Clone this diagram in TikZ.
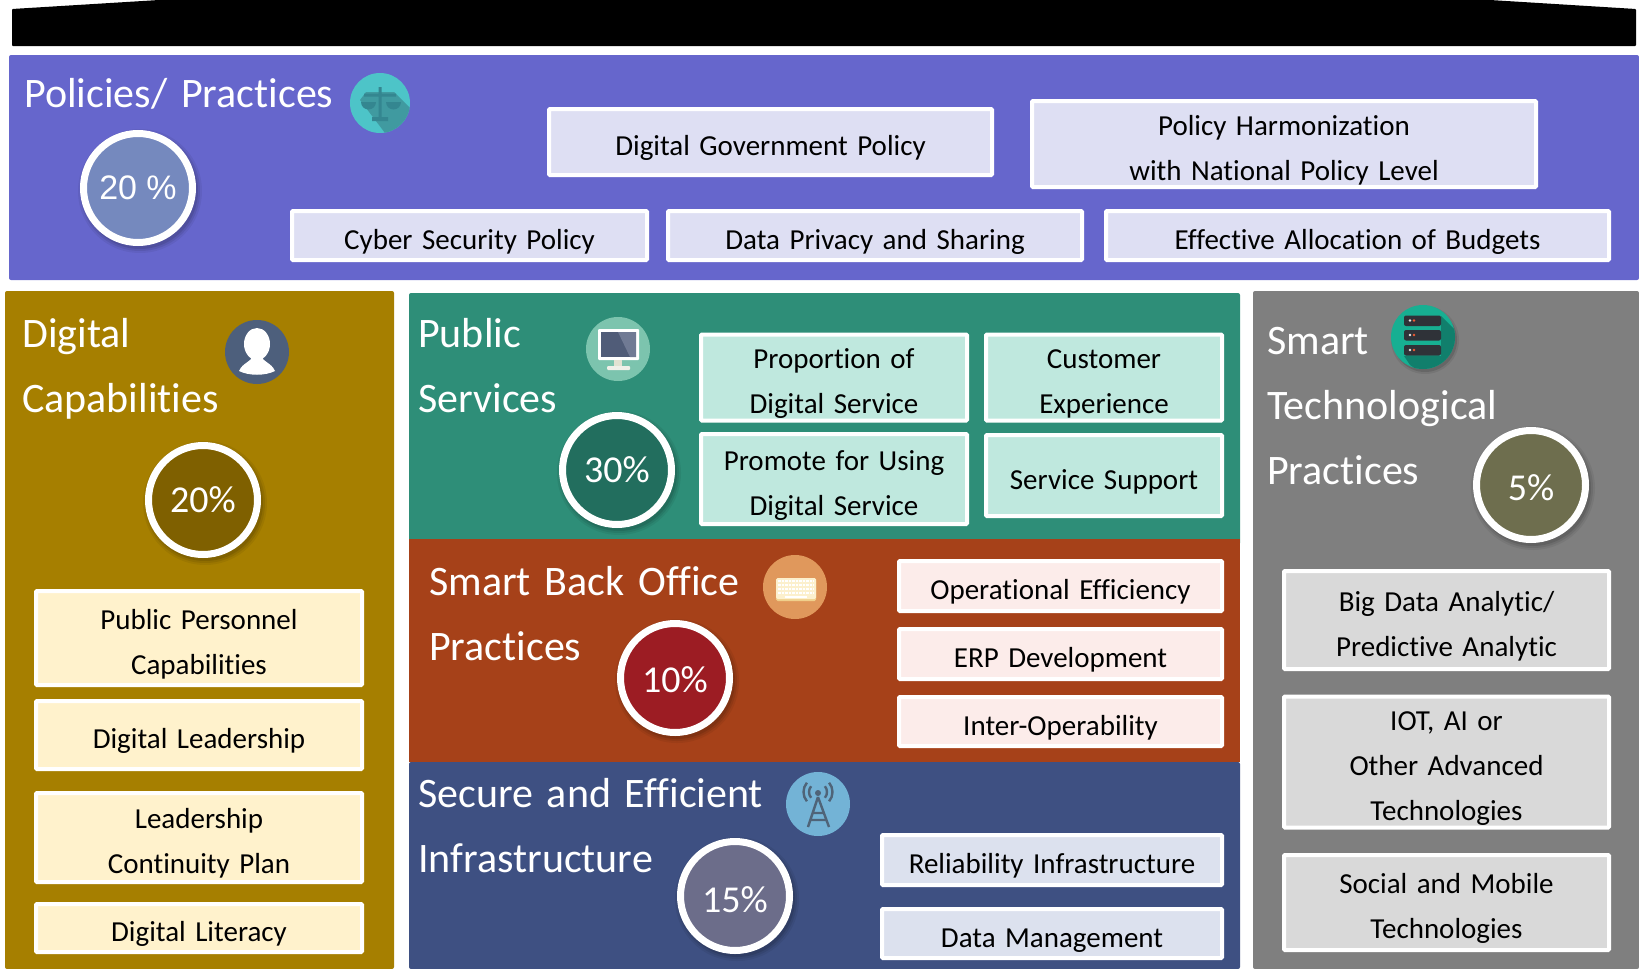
\documentclass[tikz,border=0pt]{standalone}
\usepackage{fontspec}
\setmainfont{Carlito}[Ligatures=NoCommon,WordSpace=1.45]
\newfontfamily\arialf{Liberation Sans}
\definecolor{cPol}{HTML}{6666CC}\definecolor{cPolB}{HTML}{DEDFF3}\definecolor{cPolC}{HTML}{7589BE}
\definecolor{cGold}{HTML}{A67F00}\definecolor{cGoldB}{HTML}{FFF2CC}\definecolor{cGoldC}{HTML}{7F6000}
\definecolor{cTeal}{HTML}{2E8E78}\definecolor{cTealB}{HTML}{BFE8DE}\definecolor{cTealC}{HTML}{226E5E}
\definecolor{cRust}{HTML}{A64119}\definecolor{cRustB}{HTML}{FCECEA}\definecolor{cRustC}{HTML}{9C1C23}
\definecolor{cNavy}{HTML}{3E5082}\definecolor{cNavyB}{HTML}{DCE1EE}\definecolor{cNavyC}{HTML}{6C6D8A}
\definecolor{cGray}{HTML}{7F7F7F}\definecolor{cGrayB}{HTML}{D9D9D9}\definecolor{cGrayC}{HTML}{6E6E4E}
\definecolor{icTeal}{RGB}{77,196,200}\definecolor{icTealD}{RGB}{64,154,160}\definecolor{icTealG}{RGB}{52,134,144}
\definecolor{icUserC}{RGB}{77,95,124}\definecolor{icMonC}{RGB}{124,196,174}\definecolor{icMonD}{RGB}{80,92,120}
\definecolor{icMonL}{RGB}{112,122,148}\definecolor{icMonS}{RGB}{226,226,210}\definecolor{icKeyC}{RGB}{224,152,92}
\definecolor{icKeyD}{RGB}{240,208,140}\definecolor{icKeyL}{RGB}{252,240,205}\definecolor{icAntC}{RGB}{115,179,214}
\definecolor{icAntG}{RGB}{79,100,120}\definecolor{icSrvC}{RGB}{23,175,146}\definecolor{icSrvD}{RGB}{17,127,108}
\definecolor{icSrvB}{RGB}{47,50,56}\definecolor{icSrvO}{RGB}{240,90,50}
\tikzset{
 boxn/.style={draw=white,line width=4pt,inner sep=0pt,align=center,text=black,rounded corners=1pt,
   font=\fontsize{29}{45}\selectfont},
 ringn/.style={circle,draw=white,line width=7pt,minimum size=109pt,inner sep=0pt,text=white,
   font=\fontsize{38}{38}\selectfont},
 ttl/.style={anchor=north west,inner sep=0pt,align=left,text=white,font=\fontsize{42}{65}\selectfont},
 iconc/.style={circle,minimum size=64pt,inner sep=0pt},
}
% name x1 y1 x2 y2 fill text
\newcommand\bx[7]{%
 \pgfmathsetmacro\bxw{#4-#2-4}\pgfmathsetmacro\bxh{#5-#3-4}%
 \pgfmathsetmacro\bxx{(#2+#4)/2}\pgfmathsetmacro\bxy{(#3+#5)/2}%
 \node[boxn,fill=#6,minimum width=\bxw pt,minimum height=\bxh pt] (#1) at (\bxx,\bxy) {\rule{0pt}{34pt}#7\rule[-7pt]{0pt}{1pt}};}
% name x y fill text
\newcommand\ringc[5]{%
 \foreach \rr/\oo in {62/.06,60/.08,58/.10}{\fill[black,opacity=\oo] (#2+2,#3+3) circle (\rr);}
 \node[ringn,fill=#4] (#1) at (#2,#3) {#5};}
% name x firstbaseline text
\newcommand\ttlc[4]{\node[ttl] (#1) at (#2,#3-36) {\rule{0pt}{36pt}#4};}
\begin{document}
\begin{tikzpicture}[x=1pt,y=-1pt]
\useasboundingbox (0,0) rectangle (1639,969);
% header bar
\fill[black,rounded corners=1pt] (12,46) -- (12,9) -- (159,0) -- (1490,0) -- (1636,9) -- (1636,46) -- cycle;
% panels
\fill[cPol,rounded corners=2pt] (9,55) rectangle (1639,280);
\fill[cGold,rounded corners=2pt] (5,291) rectangle (394,969);
\fill[cTeal,rounded corners=2pt] (409,293) rectangle (1240,545);
\fill[cRust] (409,539) rectangle (1240,762);
\fill[cNavy,rounded corners=2pt] (409,969) -- (409,762) -- (1240,762) -- (1240,969) -- cycle;
\fill[cGray,rounded corners=2pt] (1253,291) rectangle (1639,969);
% titles
\ttlc{tPol}{24}{107}{Policies/ Practices}
\ttlc{tDig}{22}{347.5}{Digital\\Capabilities}
\ttlc{tPub}{418}{347.5}{Public\\Services}
\ttlc{tBack}{429}{595}{Smart Back Office\\Practices}
\ttlc{tInf}{418}{807}{Secure and Efficient\\Infrastructure}
\ttlc{tTech}{1267}{354}{Smart\\Technological\\Practices}
% policy boxes
\bx{b1}{547}{107}{994}{177}{cPolB}{Digital Government Policy}
\bx{b2}{1030}{100}{1538}{188}{cPolB}{Policy Harmonization\\with National Policy Level}
\bx{b3}{290}{209}{649}{262}{cPolB}{Cyber Security Policy}
\bx{b4}{666}{209}{1084}{262}{cPolB}{Data Privacy and Sharing}
\bx{b5}{1104}{209}{1611}{262}{cPolB}{Effective Allocation of Budgets}
% left
\bx{l1}{34}{589}{364}{687}{cGoldB}{Public Personnel\\Capabilities}
\bx{l2}{34}{699}{364}{771}{cGoldB}{Digital Leadership}
\bx{l3}{34}{791}{364}{884}{cGoldB}{Leadership\\Continuity Plan}
\bx{l4}{34}{902}{364}{954}{cGoldB}{Digital Literacy}
% public services
\bx{s1}{699}{334}{969}{421}{cTealB}{Proportion of\\Digital Service}
\bx{s2}{984}{334}{1224}{421}{cTealB}{Customer\\Experience}
\bx{s3}{699}{432}{969}{526}{cTealB}{Promote for Using\\Digital Service}
\bx{s4}{984}{433}{1224}{518}{cTealB}{Service Support}
% back office
\bx{o1}{897}{559}{1224}{613}{cRustB}{Operational Efficiency}
\bx{o2}{897}{627}{1224}{681}{cRustB}{ERP Development}
\bx{o3}{897}{695}{1224}{748}{cRustB}{Inter-Operability}
% infra
\bx{i1}{880}{833}{1224}{887}{cNavyB}{Reliability Infrastructure}
\bx{i2}{880}{907}{1224}{960}{cNavyB}{Data Management}
% tech
\bx{t1}{1282}{569}{1611}{671}{cGrayB}{Big Data Analytic/\\Predictive Analytic}
\bx{t2}{1282}{696}{1611}{828}{cGrayB}{IOT, AI or\\Other Advanced\\Technologies}
\bx{t3}{1282}{853}{1611}{952}{cGrayB}{Social and Mobile\\Technologies}
% rings
\ringc{r1}{138}{188}{cPolC}{\arialf\fontsize{34}{38}\selectfont 20 \%}
\ringc{r2}{203}{500}{cGoldC}{20\%}
\ringc{r3}{617}{470}{cTealC}{30\%}
\ringc{r4}{675}{678}{cRustC}{\rule{0pt}{30pt}10\%}
\ringc{r5}{735}{896}{cNavyC}{\rule{0pt}{34pt}15\%}
\ringc{r6}{1531}{485}{cGrayC}{\rule{0pt}{32pt}5\%}
% scales icon
\node[iconc,minimum size=60pt,fill=icTeal] (icScale) at (380,103) {};
\begin{scope}
\clip (380,103) circle (30);
\fill[icTealD] (360,100) -- (366,92) -- (394,92) -- (420,118) -- (400,150) -- (385,133) -- cycle;
\end{scope}
\fill[icTealG] (378.5,87) rectangle (381.5,118) (364,93.5) rectangle (396,96.5) (372,117) rectangle (388,121);
\fill[icTealG] (361,102) arc[start angle=180,end angle=0,radius=7.5] -- cycle;
\fill[icTealG] (386,102) arc[start angle=180,end angle=0,radius=7.5] -- cycle;
% user icon
\node[iconc,fill=icUserC] (icUser) at (257,352) {};
\fill[white] (257,344) ellipse (13 and 16);
\fill[white] (239,371) .. controls (243,362) and (252,362) .. (252,356) -- (262,356) .. controls (262,362) and (271,362) .. (275,371) .. controls (265,376) and (249,376) .. (239,371) -- cycle;
% monitor icon
\node[iconc,fill=icMonC] (icMon) at (618,349) {};
\fill[white,rounded corners=1pt] (598,329) rectangle (639,360);
\fill[icMonD] (601,332) rectangle (636,357);
\fill[icMonL] (618,332) -- (636,332) -- (636,357) -- (630,357) -- cycle;
\fill[icMonS] (614,360) rectangle (622,367);
\fill[icMonS!50!white,rounded corners=1pt] (607,366) rectangle (630,370);
% keyboard icon
\node[iconc,fill=icKeyC] (icKey) at (795,587) {};
\fill[icKeyD,rounded corners=1.5pt] (776,579) rectangle (816,601);
\fill[icKeyL,rounded corners=1.5pt] (776,578) rectangle (816,599);
\foreach \yy in {581,585,589,593}{\draw[white,line width=2.5pt,dash pattern=on 2.5pt off 1pt] (778,\yy) -- (814,\yy);}
\draw[white,line width=2.5pt] (785,597) -- (807,597);
% antenna icon
\node[iconc,fill=icAntC] (icAnt) at (818,804) {};
\begin{scope}[draw=icAntG,line width=2.4pt]
\draw (818,797) -- (808,827) (818,797) -- (829,827) (812.5,813) -- (824,813) (810.5,820) -- (826,820);
\fill[icAntG] (818,793) circle (3);
\draw (818,792) ++(140:9) arc[start angle=140,end angle=220,radius=9];
\draw (818,792) ++(40:9) arc[start angle=40,end angle=-40,radius=9];
\draw (818,792) ++(140:14.5) arc[start angle=140,end angle=220,radius=14.5];
\draw (818,792) ++(40:14.5) arc[start angle=40,end angle=-40,radius=14.5];
\end{scope}
% server icon
\foreach \rr/\oo in {34/.08,32/.12}{\fill[black,opacity=\oo] (1425,340) circle (\rr);}
\node[iconc,fill=icSrvC] (icSrv) at (1423,337) {};
\begin{scope}
\clip (1423,337) circle (32);
\fill[icSrvD] (1441,316) -- (1470,345) -- (1440,385) -- (1410,365) -- (1404,356) -- (1441,356) -- cycle;
\end{scope}
\foreach \yy in {315.5,330,345}{
 \fill[icSrvB,rounded corners=2pt] (1404,\yy) rectangle (1441,\yy+10.5);
 \fill[white!90!black] (1410,\yy+5) circle (1.3);
 \fill[icSrvO] (1414,\yy+5) circle (1.3);
}
\end{tikzpicture}
\end{document}
